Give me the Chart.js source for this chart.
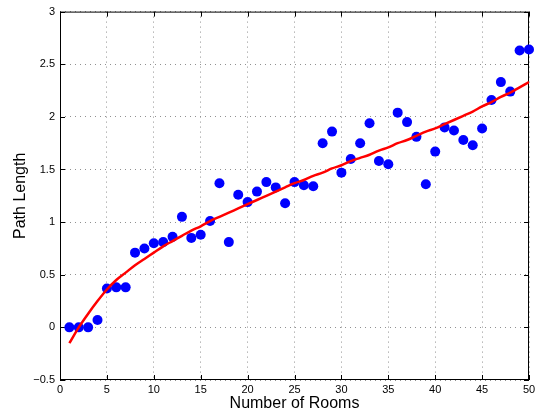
<!DOCTYPE html>
<html>
<head>
<meta charset="utf-8">
<title>Path Length vs Number of Rooms</title>
<script src="https://cdn.jsdelivr.net/npm/chart.js@4.4.1/dist/chart.umd.min.js"></script>
<style>
  html, body { margin: 0; padding: 0; background: #fff; }
  #roomsChart { display: block; }
</style>
</head>
<body>
<canvas id="roomsChart" width="542" height="414"></canvas>
<script>
// measured path lengths per room count
var rooms = [1, 2, 3, 4, 5, 6, 7, 8, 9, 10,
             11, 12, 13, 14, 15, 16, 17, 18, 19, 20,
             21, 22, 23, 24, 25, 26, 27, 28, 29, 30,
             31, 32, 33, 34, 35, 36, 37, 38, 39, 40,
             41, 42, 43, 44, 45, 46, 47, 48, 49, 50];
var pathLength = [0, 0, 0, 0.07, 0.37, 0.38, 0.38, 0.71, 0.75, 0.80,
                  0.81, 0.86, 1.05, 0.85, 0.88, 1.01, 1.37, 0.81, 1.26, 1.19,
                  1.29, 1.38, 1.33, 1.18, 1.38, 1.35, 1.34, 1.75, 1.86, 1.47,
                  1.60, 1.75, 1.94, 1.58, 1.55, 2.04, 1.95, 1.81, 1.36, 1.67,
                  1.90, 1.87, 1.78, 1.73, 1.89, 2.16, 2.33, 2.24, 2.63, 2.64];
// fitted trend
var fitLength = [-0.15, 0.0, 0.13, 0.25, 0.36, 0.45, 0.52, 0.59, 0.65, 0.71,
                 0.77, 0.82, 0.87, 0.92, 0.96, 1.01, 1.05, 1.09, 1.13, 1.17,
                 1.21, 1.25, 1.29, 1.33, 1.37, 1.40, 1.44, 1.47, 1.51, 1.54,
                 1.58, 1.61, 1.64, 1.68, 1.71, 1.75, 1.78, 1.82, 1.86, 1.89,
                 1.93, 1.97, 2.01, 2.05, 2.10, 2.14, 2.19, 2.23, 2.28, 2.33];
var xTicks = [0, 5, 10, 15, 20, 25, 30, 35, 40, 45, 50];
var yTicks = [-0.5, 0, 0.5, 1, 1.5, 2, 2.5, 3];

var fontFamily = '"Liberation Sans", Arial, Helvetica, sans-serif';

// black frame with inward tick marks on all four sides
var boxAxes = {
    id: 'boxAxes',
    beforeDatasetsDraw: function(chart) {
        var ctx = chart.ctx;
        var a = chart.chartArea;
        var sx = chart.scales.x, sy = chart.scales.y;
        var len = 5;
        ctx.save();
        ctx.strokeStyle = '#000';
        ctx.lineWidth = 1;
        ctx.strokeRect(a.left + 0.5, a.top + 0.5, a.right - a.left - 1, a.bottom - a.top - 1);
        ctx.beginPath();
        xTicks.forEach(function(v) {
            var px = Math.round(sx.getPixelForValue(v)) + 0.5;
            ctx.moveTo(px, a.bottom);
            ctx.lineTo(px, a.bottom - len);
            ctx.moveTo(px, a.top);
            ctx.lineTo(px, a.top + len);
        });
        yTicks.forEach(function(v) {
            var py = Math.round(sy.getPixelForValue(v)) + 0.5;
            ctx.moveTo(a.left, py);
            ctx.lineTo(a.left + len, py);
            ctx.moveTo(a.right, py);
            ctx.lineTo(a.right - len, py);
        });
        ctx.stroke();
        ctx.restore();
    }
};

var ctx = document.getElementById('roomsChart').getContext('2d');
var roomsChart = new Chart(ctx, {
    type: 'scatter',
    data: {
        datasets: [{
            type: 'line',
            label: 'Fit',
            data: rooms.map(function(r, i) { return { x: r, y: fitLength[i] }; }),
            borderColor: '#ff0000',
            borderWidth: 2.5,
            pointRadius: 0,
            fill: false,
            cubicInterpolationMode: 'monotone',
            order: 0
        }, {
            label: 'Path Length',
            data: rooms.map(function(r, i) { return { x: r, y: pathLength[i] }; }),
            backgroundColor: '#0000ff',
            borderColor: '#0000ff',
            borderWidth: 0,
            pointRadius: 5,
            clip: false,
            order: 1
        }]
    },
    options: {
        responsive: false,
        animation: false,
        layout: { padding: { top: 11, right: 13, bottom: 0, left: 0 } },
        plugins: {
            legend: { display: false },
            tooltip: { enabled: false }
        },
        scales: {
            x: {
                type: 'linear',
                min: 0,
                max: 50,
                afterBuildTicks: function(scale) {
                    scale.ticks = xTicks.map(function(v) { return { value: v }; });
                },
                afterFit: function(scale) { scale.height = 34; },
                grid: { color: '#909090', drawTicks: false },
                border: { display: false, dash: [1, 4] },
                ticks: {
                    padding: 3,
                    color: '#000',
                    maxRotation: 0,
                    font: { family: fontFamily, size: 11 }
                },
                title: {
                    display: true,
                    text: 'Number of Rooms',
                    color: '#000',
                    padding: { top: 0, bottom: 1 },
                    font: { family: fontFamily, size: 16 }
                }
            },
            y: {
                type: 'linear',
                min: -0.5,
                max: 3,
                afterBuildTicks: function(scale) {
                    scale.ticks = yTicks.map(function(v) { return { value: v }; });
                },
                afterFit: function(scale) { scale.width = 60; },
                grid: { color: '#909090', drawTicks: false },
                border: { display: false, dash: [1, 4] },
                ticks: {
                    padding: 5,
                    color: '#000',
                    font: { family: fontFamily, size: 11 },
                    callback: function(v) { return String(v).replace('-', '\u2212'); }
                },
                title: {
                    display: true,
                    text: 'Path Length',
                    color: '#000',
                    padding: { top: 11, bottom: 0 },
                    font: { family: fontFamily, size: 16 }
                }
            }
        }
    },
    plugins: [boxAxes]
});
</script>
</body>
</html>
